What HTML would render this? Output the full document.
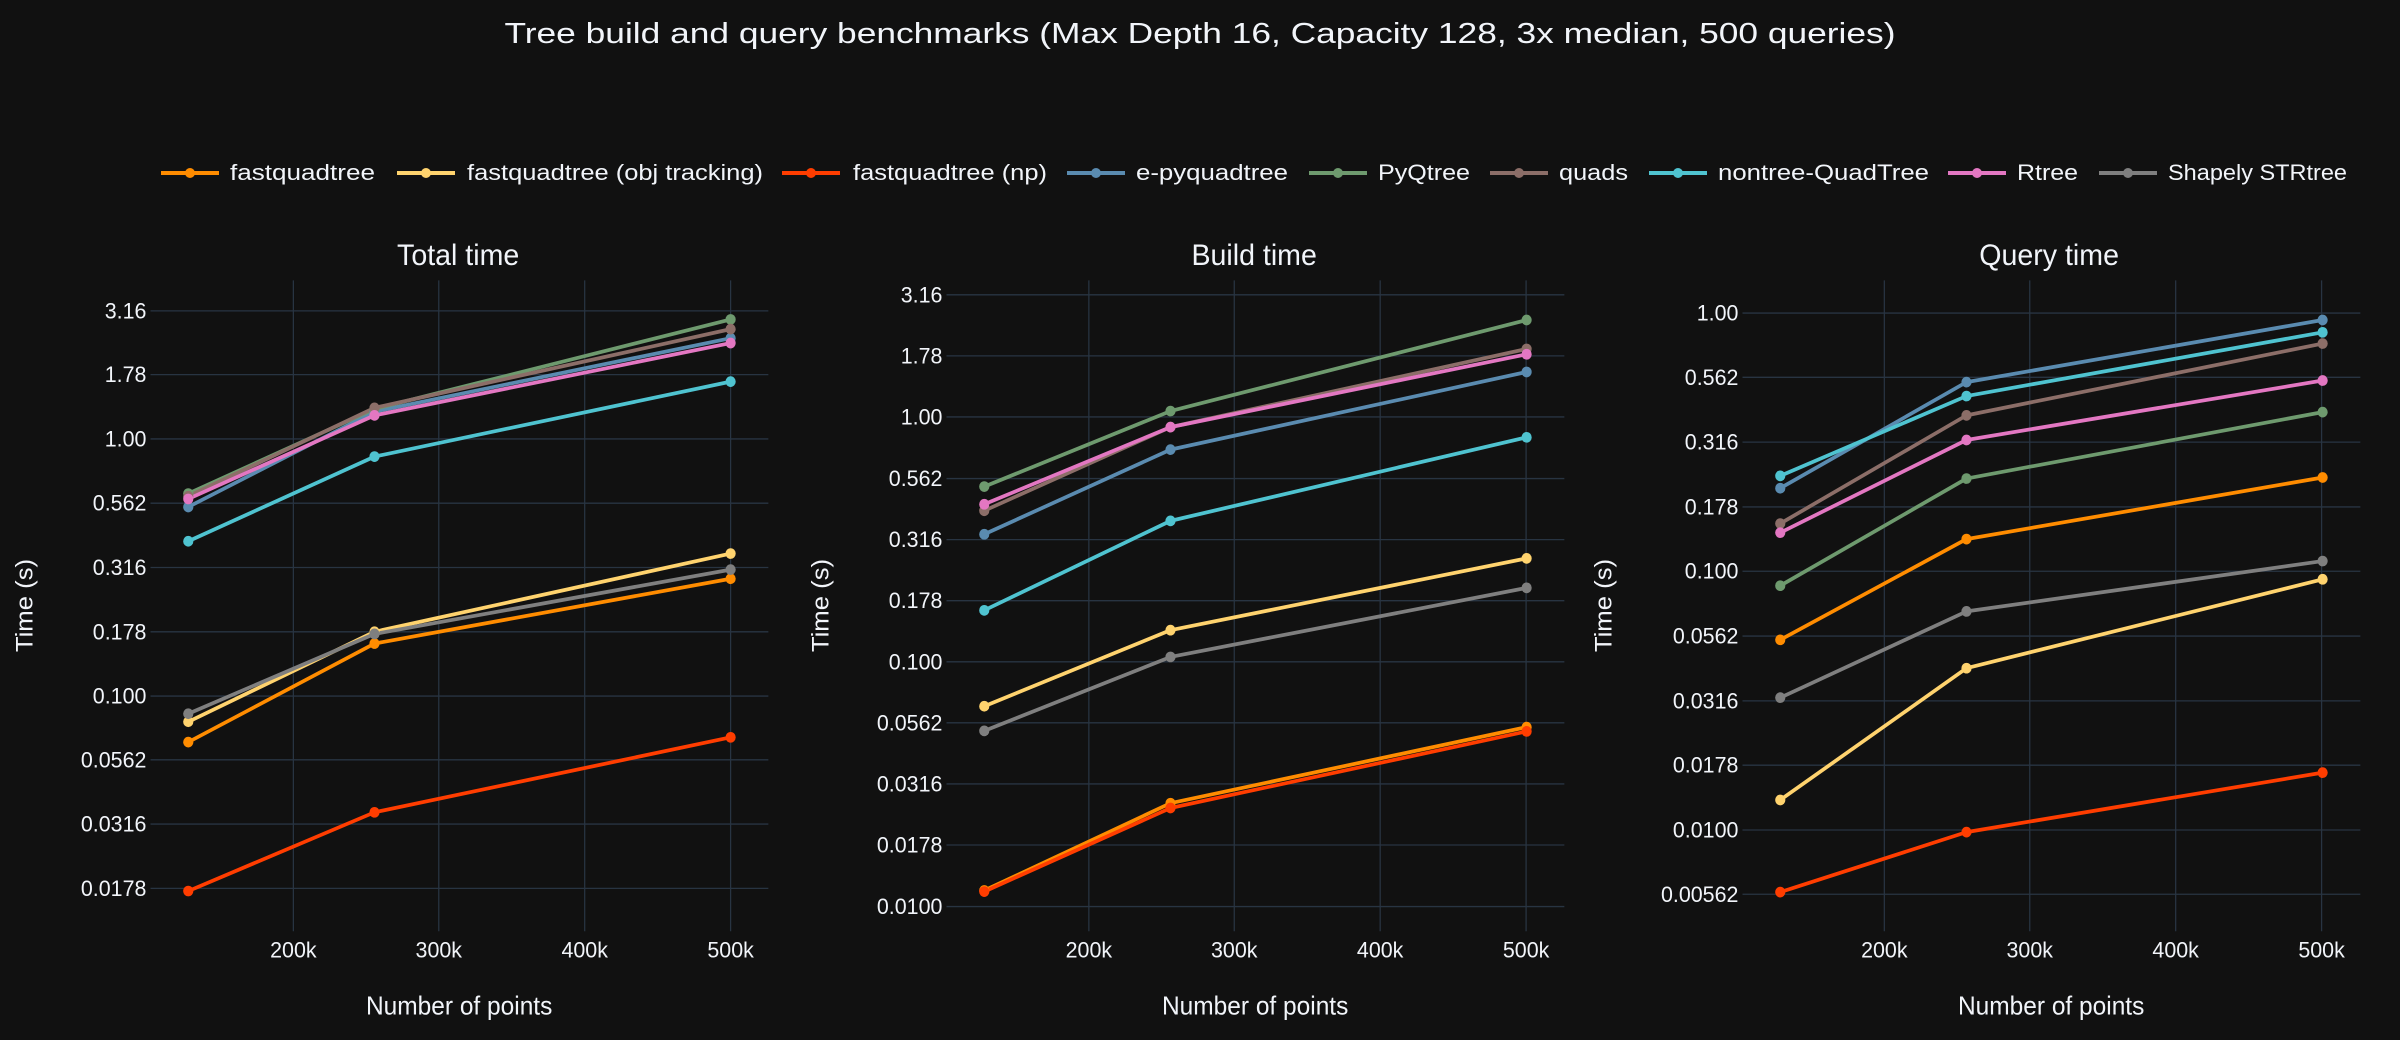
<!DOCTYPE html>
<html><head><meta charset="utf-8"><style>
html,body{margin:0;padding:0;background:#111111;}
svg{display:block;}
text{font-family:"Liberation Sans","DejaVu Sans",sans-serif;fill:#f2f5fa;}
</style></head><body>
<svg width="2400" height="1040" viewBox="0 0 2400 1040" xmlns="http://www.w3.org/2000/svg">
<rect width="2400" height="1040" fill="#111111"/>
<text x="1200" y="43" text-anchor="middle" font-size="29" textLength="1391" lengthAdjust="spacingAndGlyphs">Tree build and query benchmarks (Max Depth 16, Capacity 128, 3x median, 500 queries)</text>
<g font-size="22">
<g stroke-width="4"><line x1="161" y1="173" x2="219" y2="173" stroke="#FF8C00"/><line x1="397" y1="173" x2="455" y2="173" stroke="#FFD36E"/><line x1="782" y1="173" x2="840" y2="173" stroke="#FF3D00"/><line x1="1067" y1="173" x2="1125" y2="173" stroke="#5A8BB0"/><line x1="1309" y1="173" x2="1367" y2="173" stroke="#6E9A6E"/><line x1="1490" y1="173" x2="1548" y2="173" stroke="#8C6E68"/><line x1="1649" y1="173" x2="1707" y2="173" stroke="#4FC3D0"/><line x1="1948" y1="173" x2="2006" y2="173" stroke="#E377C2"/><line x1="2099" y1="173" x2="2157" y2="173" stroke="#7F7F7F"/></g>
<circle cx="190" cy="173" r="5" fill="#FF8C00"/><circle cx="426" cy="173" r="5" fill="#FFD36E"/><circle cx="811" cy="173" r="5" fill="#FF3D00"/><circle cx="1096" cy="173" r="5" fill="#5A8BB0"/><circle cx="1338" cy="173" r="5" fill="#6E9A6E"/><circle cx="1519" cy="173" r="5" fill="#8C6E68"/><circle cx="1678" cy="173" r="5" fill="#4FC3D0"/><circle cx="1977" cy="173" r="5" fill="#E377C2"/><circle cx="2128" cy="173" r="5" fill="#7F7F7F"/>
<text x="230" y="180" textLength="145" lengthAdjust="spacingAndGlyphs">fastquadtree</text>
<text x="467" y="180" textLength="296" lengthAdjust="spacingAndGlyphs">fastquadtree (obj tracking)</text>
<text x="853" y="180" textLength="194" lengthAdjust="spacingAndGlyphs">fastquadtree (np)</text>
<text x="1136" y="180" textLength="152" lengthAdjust="spacingAndGlyphs">e-pyquadtree</text>
<text x="1378" y="180" textLength="92" lengthAdjust="spacingAndGlyphs">PyQtree</text>
<text x="1559" y="180" textLength="69" lengthAdjust="spacingAndGlyphs">quads</text>
<text x="1718" y="180" textLength="211" lengthAdjust="spacingAndGlyphs">nontree-QuadTree</text>
<text x="2017" y="180" textLength="61" lengthAdjust="spacingAndGlyphs">Rtree</text>
<text x="2168" y="180" textLength="179" lengthAdjust="spacingAndGlyphs">Shapely STRtree</text>
</g>

<!-- LEFT PANEL -->
<g transform="translate(0,200) scale(0.5102,0.5357)">
<g stroke="#283442" stroke-width="2.5">
<line x1="575" y1="150" x2="575" y2="1365"/><line x1="860" y1="150" x2="860" y2="1365"/><line x1="1146" y1="150" x2="1146" y2="1365"/><line x1="1432" y1="150" x2="1432" y2="1365"/>
<line x1="295" y1="207" x2="1506" y2="207"/><line x1="295" y1="326" x2="1506" y2="326"/><line x1="295" y1="446" x2="1506" y2="446"/><line x1="295" y1="566" x2="1506" y2="566"/><line x1="295" y1="686" x2="1506" y2="686"/><line x1="295" y1="806" x2="1506" y2="806"/><line x1="295" y1="926" x2="1506" y2="926"/><line x1="295" y1="1045" x2="1506" y2="1045"/><line x1="295" y1="1165" x2="1506" y2="1165"/><line x1="295" y1="1285" x2="1506" y2="1285"/>
</g>
<g font-size="42" text-anchor="end">
<text x="287" y="221">3.16</text><text x="287" y="340">1.78</text><text x="287" y="460">1.00</text><text x="287" y="580">0.562</text><text x="287" y="700">0.316</text><text x="287" y="820">0.178</text><text x="287" y="940">0.100</text><text x="287" y="1059">0.0562</text><text x="287" y="1179">0.0316</text><text x="287" y="1299">0.0178</text>
</g>
<g font-size="42" text-anchor="middle"><text x="575" y="1414">200k</text><text x="860" y="1414">300k</text><text x="1146" y="1414">400k</text><text x="1432" y="1414">500k</text></g>
<text x="898" y="121" font-size="56" text-anchor="middle">Total time</text>
<text x="900" y="1520" font-size="48" text-anchor="middle">Number of points</text>
<text transform="translate(64,757) rotate(-90)" font-size="48" text-anchor="middle">Time (s)</text>
<g fill="none" stroke-width="7" stroke-linejoin="round">
<polyline stroke="#FF8C00" points="369,1012 734,828 1432,707"/>
<polyline stroke="#FFD36E" points="369,974 734,806 1432,660"/>
<polyline stroke="#FF3D00" points="369,1290 734,1143 1432,1003"/>
<polyline stroke="#5A8BB0" points="369,573 734,395 1432,258"/>
<polyline stroke="#6E9A6E" points="369,548 734,390 1432,223"/>
<polyline stroke="#8C6E68" points="369,553 734,388 1432,241"/>
<polyline stroke="#4FC3D0" points="369,637 734,479 1432,339"/>
<polyline stroke="#E377C2" points="369,558 734,402 1432,267"/>
<polyline stroke="#7F7F7F" points="369,959 734,810 1432,690"/>
</g>
<g>
<g fill="#FF8C00"><circle cx="369" cy="1012" r="10"/><circle cx="734" cy="828" r="10"/><circle cx="1432" cy="707" r="10"/></g>
<g fill="#FFD36E"><circle cx="369" cy="974" r="10"/><circle cx="734" cy="806" r="10"/><circle cx="1432" cy="660" r="10"/></g>
<g fill="#FF3D00"><circle cx="369" cy="1290" r="10"/><circle cx="734" cy="1143" r="10"/><circle cx="1432" cy="1003" r="10"/></g>
<g fill="#5A8BB0"><circle cx="369" cy="573" r="10"/><circle cx="734" cy="395" r="10"/><circle cx="1432" cy="258" r="10"/></g>
<g fill="#6E9A6E"><circle cx="369" cy="548" r="10"/><circle cx="734" cy="390" r="10"/><circle cx="1432" cy="223" r="10"/></g>
<g fill="#8C6E68"><circle cx="369" cy="553" r="10"/><circle cx="734" cy="388" r="10"/><circle cx="1432" cy="241" r="10"/></g>
<g fill="#4FC3D0"><circle cx="369" cy="637" r="10"/><circle cx="734" cy="479" r="10"/><circle cx="1432" cy="339" r="10"/></g>
<g fill="#E377C2"><circle cx="369" cy="558" r="10"/><circle cx="734" cy="402" r="10"/><circle cx="1432" cy="267" r="10"/></g>
<g fill="#7F7F7F"><circle cx="369" cy="959" r="10"/><circle cx="734" cy="810" r="10"/><circle cx="1432" cy="690" r="10"/></g>
</g>
</g>

<!-- MIDDLE PANEL -->
<g transform="translate(796,200) scale(0.5102,0.5357)">
<g stroke="#283442" stroke-width="2.5">
<line x1="574" y1="150" x2="574" y2="1365"/><line x1="859" y1="150" x2="859" y2="1365"/><line x1="1145" y1="150" x2="1145" y2="1365"/><line x1="1431" y1="150" x2="1431" y2="1365"/>
<line x1="295" y1="177" x2="1506" y2="177"/><line x1="295" y1="291" x2="1506" y2="291"/><line x1="295" y1="405" x2="1506" y2="405"/><line x1="295" y1="520" x2="1506" y2="520"/><line x1="295" y1="634" x2="1506" y2="634"/><line x1="295" y1="748" x2="1506" y2="748"/><line x1="295" y1="862" x2="1506" y2="862"/><line x1="295" y1="976" x2="1506" y2="976"/><line x1="295" y1="1090" x2="1506" y2="1090"/><line x1="295" y1="1204" x2="1506" y2="1204"/><line x1="295" y1="1319" x2="1506" y2="1319"/>
</g>
<g font-size="42" text-anchor="end">
<text x="287" y="191">3.16</text><text x="287" y="305">1.78</text><text x="287" y="419">1.00</text><text x="287" y="534">0.562</text><text x="287" y="648">0.316</text><text x="287" y="762">0.178</text><text x="287" y="876">0.100</text><text x="287" y="990">0.0562</text><text x="287" y="1104">0.0316</text><text x="287" y="1218">0.0178</text><text x="287" y="1333">0.0100</text>
</g>
<g font-size="42" text-anchor="middle"><text x="574" y="1414">200k</text><text x="859" y="1414">300k</text><text x="1145" y="1414">400k</text><text x="1431" y="1414">500k</text></g>
<text x="898" y="121" font-size="56" text-anchor="middle">Build time</text>
<text x="900" y="1520" font-size="48" text-anchor="middle">Number of points</text>
<text transform="translate(64,757) rotate(-90)" font-size="48" text-anchor="middle">Time (s)</text>
<g fill="none" stroke-width="7" stroke-linejoin="round">
<polyline stroke="#FF8C00" points="369,1289 734,1126 1432,984"/>
<polyline stroke="#FFD36E" points="369,945 734,803 1432,669"/>
<polyline stroke="#FF3D00" points="369,1291 734,1135 1432,992"/>
<polyline stroke="#5A8BB0" points="369,624 734,466 1432,321"/>
<polyline stroke="#6E9A6E" points="369,535 734,394 1432,224"/>
<polyline stroke="#8C6E68" points="369,580 734,424 1432,278"/>
<polyline stroke="#4FC3D0" points="369,766 734,599 1432,443"/>
<polyline stroke="#E377C2" points="369,568 734,424 1432,288"/>
<polyline stroke="#7F7F7F" points="369,991 734,853 1432,724"/>
</g>
<g>
<g fill="#FF8C00"><circle cx="369" cy="1289" r="10"/><circle cx="734" cy="1126" r="10"/><circle cx="1432" cy="984" r="10"/></g>
<g fill="#FFD36E"><circle cx="369" cy="945" r="10"/><circle cx="734" cy="803" r="10"/><circle cx="1432" cy="669" r="10"/></g>
<g fill="#FF3D00"><circle cx="369" cy="1291" r="10"/><circle cx="734" cy="1135" r="10"/><circle cx="1432" cy="992" r="10"/></g>
<g fill="#5A8BB0"><circle cx="369" cy="624" r="10"/><circle cx="734" cy="466" r="10"/><circle cx="1432" cy="321" r="10"/></g>
<g fill="#6E9A6E"><circle cx="369" cy="535" r="10"/><circle cx="734" cy="394" r="10"/><circle cx="1432" cy="224" r="10"/></g>
<g fill="#8C6E68"><circle cx="369" cy="580" r="10"/><circle cx="734" cy="424" r="10"/><circle cx="1432" cy="278" r="10"/></g>
<g fill="#4FC3D0"><circle cx="369" cy="766" r="10"/><circle cx="734" cy="599" r="10"/><circle cx="1432" cy="443" r="10"/></g>
<g fill="#E377C2"><circle cx="369" cy="568" r="10"/><circle cx="734" cy="424" r="10"/><circle cx="1432" cy="288" r="10"/></g>
<g fill="#7F7F7F"><circle cx="369" cy="991" r="10"/><circle cx="734" cy="853" r="10"/><circle cx="1432" cy="724" r="10"/></g>
</g>
</g>

<!-- RIGHT PANEL -->
<g transform="translate(1592,200) scale(0.5102,0.5357)">
<g stroke="#283442" stroke-width="2.5">
<line x1="573" y1="150" x2="573" y2="1365"/><line x1="858" y1="150" x2="858" y2="1365"/><line x1="1144" y1="150" x2="1144" y2="1365"/><line x1="1430" y1="150" x2="1430" y2="1365"/>
<line x1="295" y1="211" x2="1506" y2="211"/><line x1="295" y1="331" x2="1506" y2="331"/><line x1="295" y1="452" x2="1506" y2="452"/><line x1="295" y1="573" x2="1506" y2="573"/><line x1="295" y1="693" x2="1506" y2="693"/><line x1="295" y1="814" x2="1506" y2="814"/><line x1="295" y1="935" x2="1506" y2="935"/><line x1="295" y1="1055" x2="1506" y2="1055"/><line x1="295" y1="1176" x2="1506" y2="1176"/><line x1="295" y1="1296" x2="1506" y2="1296"/>
</g>
<g font-size="42" text-anchor="end">
<text x="287" y="225">1.00</text><text x="287" y="345">0.562</text><text x="287" y="466">0.316</text><text x="287" y="587">0.178</text><text x="287" y="707">0.100</text><text x="287" y="828">0.0562</text><text x="287" y="949">0.0316</text><text x="287" y="1069">0.0178</text><text x="287" y="1190">0.0100</text><text x="287" y="1310">0.00562</text>
</g>
<g font-size="42" text-anchor="middle"><text x="573" y="1414">200k</text><text x="858" y="1414">300k</text><text x="1144" y="1414">400k</text><text x="1430" y="1414">500k</text></g>
<text x="896" y="121" font-size="56" text-anchor="middle">Query time</text>
<text x="900" y="1520" font-size="48" text-anchor="middle">Number of points</text>
<text transform="translate(38,757) rotate(-90)" font-size="48" text-anchor="middle">Time (s)</text>
<g fill="none" stroke-width="7" stroke-linejoin="round">
<polyline stroke="#FF8C00" points="369,821 734,633 1432,518"/>
<polyline stroke="#FFD36E" points="369,1120 734,874 1432,708"/>
<polyline stroke="#FF3D00" points="369,1292 734,1180 1432,1069"/>
<polyline stroke="#5A8BB0" points="369,538 734,340 1432,224"/>
<polyline stroke="#6E9A6E" points="369,720 734,520 1432,396"/>
<polyline stroke="#8C6E68" points="369,604 734,402 1432,268"/>
<polyline stroke="#4FC3D0" points="369,515 734,366 1432,247"/>
<polyline stroke="#E377C2" points="369,621 734,448 1432,337"/>
<polyline stroke="#7F7F7F" points="369,929 734,768 1432,674"/>
</g>
<g>
<g fill="#FF8C00"><circle cx="369" cy="821" r="10"/><circle cx="734" cy="633" r="10"/><circle cx="1432" cy="518" r="10"/></g>
<g fill="#FFD36E"><circle cx="369" cy="1120" r="10"/><circle cx="734" cy="874" r="10"/><circle cx="1432" cy="708" r="10"/></g>
<g fill="#FF3D00"><circle cx="369" cy="1292" r="10"/><circle cx="734" cy="1180" r="10"/><circle cx="1432" cy="1069" r="10"/></g>
<g fill="#5A8BB0"><circle cx="369" cy="538" r="10"/><circle cx="734" cy="340" r="10"/><circle cx="1432" cy="224" r="10"/></g>
<g fill="#6E9A6E"><circle cx="369" cy="720" r="10"/><circle cx="734" cy="520" r="10"/><circle cx="1432" cy="396" r="10"/></g>
<g fill="#8C6E68"><circle cx="369" cy="604" r="10"/><circle cx="734" cy="402" r="10"/><circle cx="1432" cy="268" r="10"/></g>
<g fill="#4FC3D0"><circle cx="369" cy="515" r="10"/><circle cx="734" cy="366" r="10"/><circle cx="1432" cy="247" r="10"/></g>
<g fill="#E377C2"><circle cx="369" cy="621" r="10"/><circle cx="734" cy="448" r="10"/><circle cx="1432" cy="337" r="10"/></g>
<g fill="#7F7F7F"><circle cx="369" cy="929" r="10"/><circle cx="734" cy="768" r="10"/><circle cx="1432" cy="674" r="10"/></g>
</g>
</g>
</svg>
</body></html>
